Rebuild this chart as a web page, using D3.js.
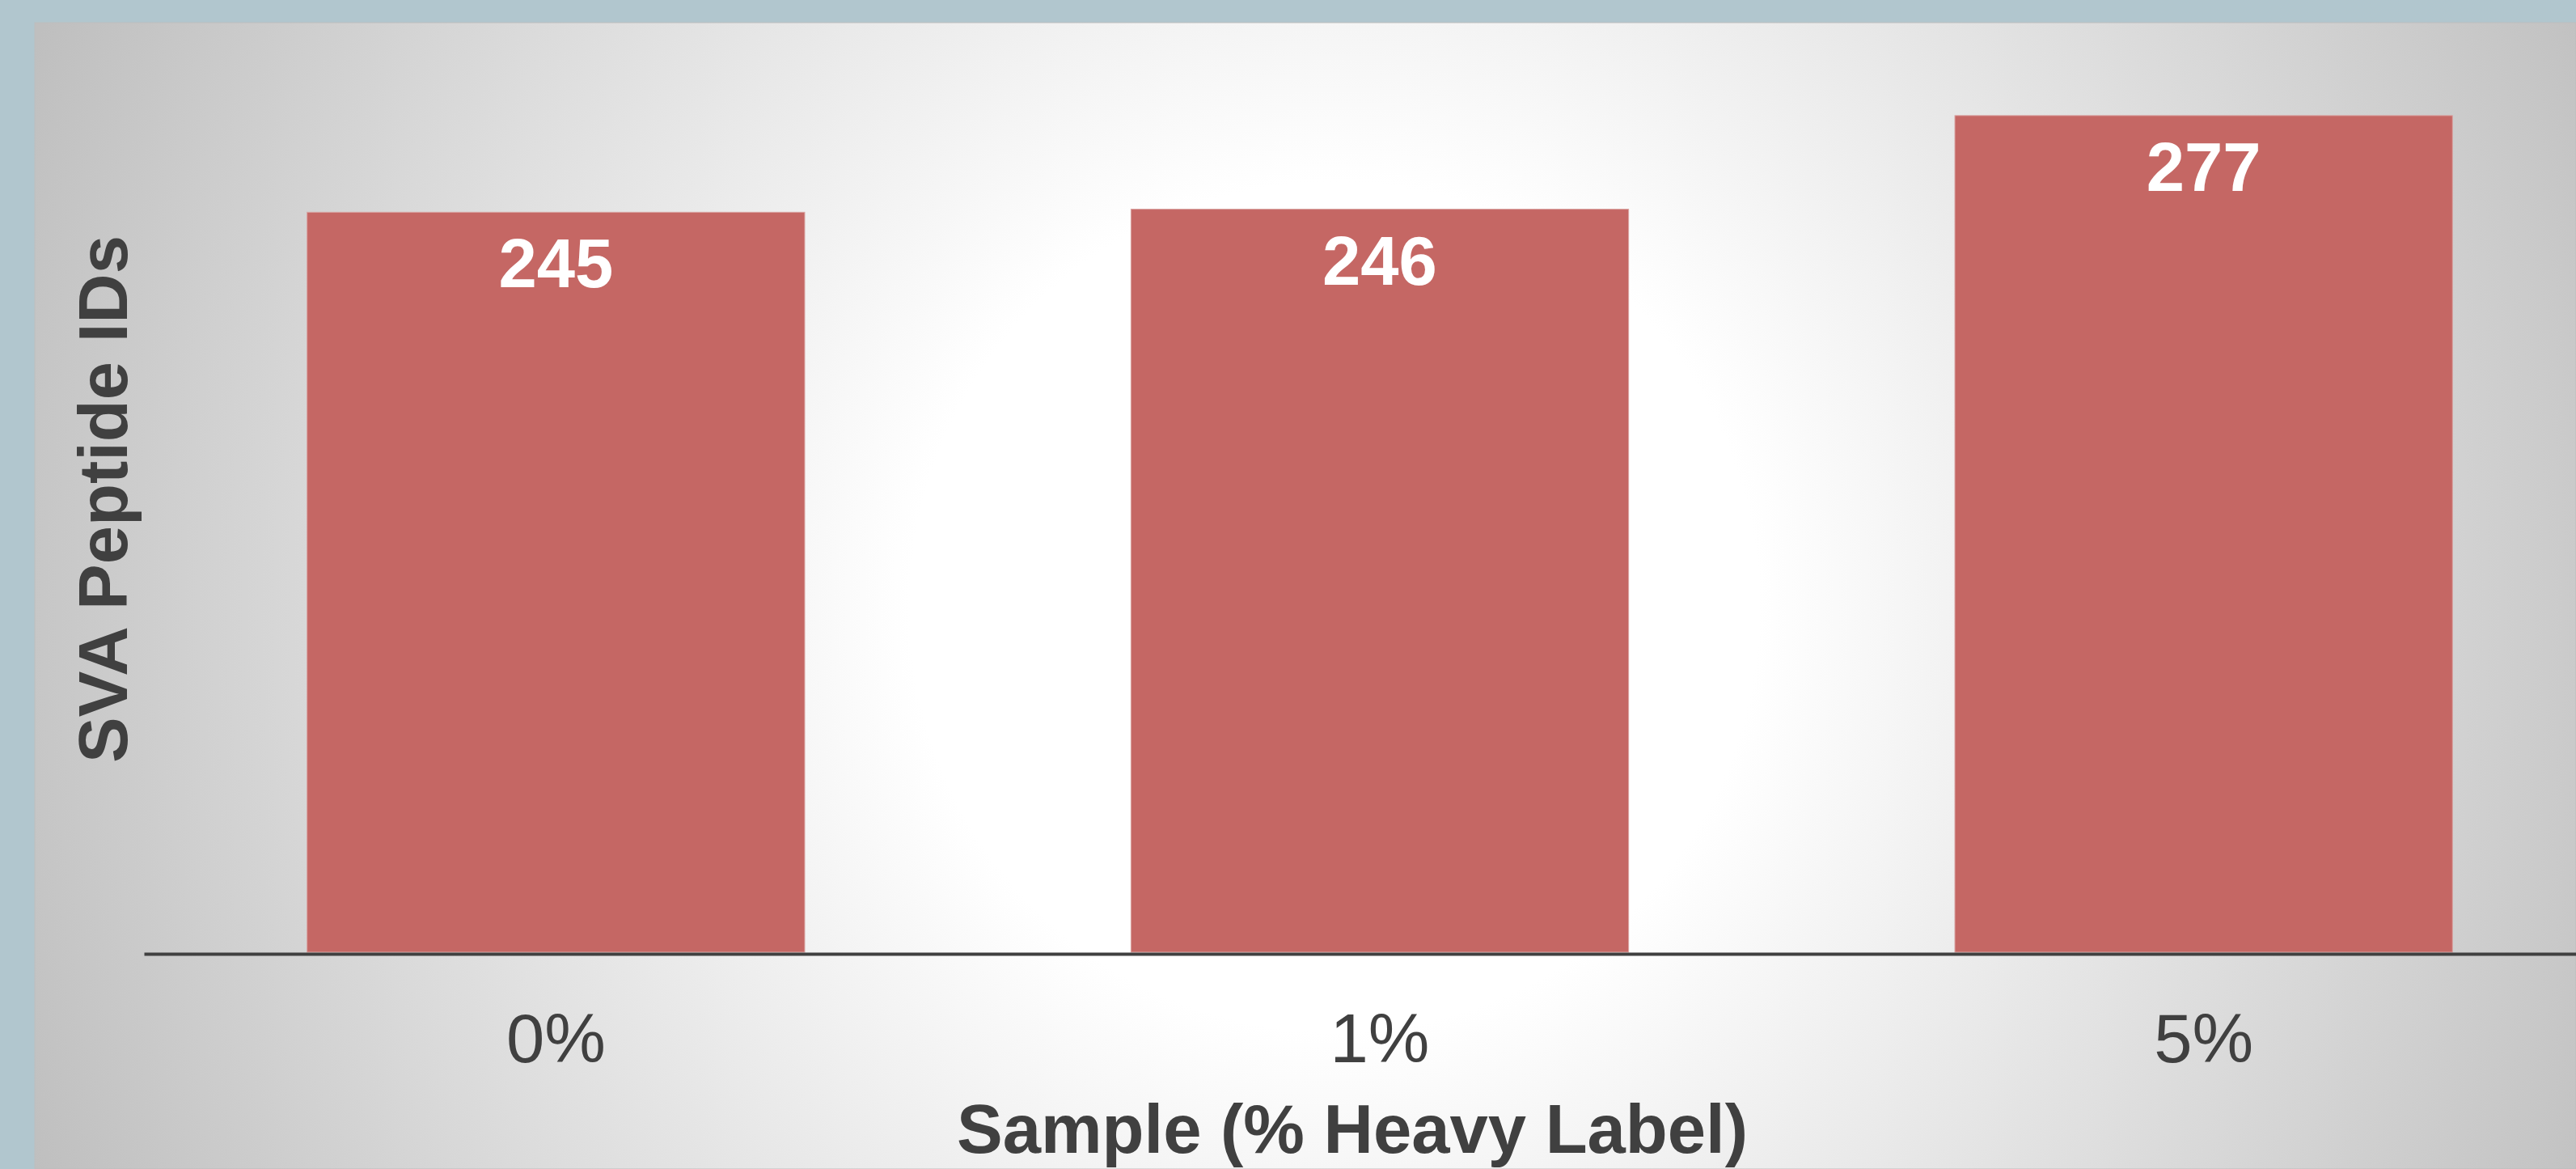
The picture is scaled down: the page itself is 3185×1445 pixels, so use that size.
<!DOCTYPE html>
<html>
<head>
<meta charset="utf-8">
<script src="https://cdn.jsdelivr.net/npm/d3@7"></script>
<style>
  html, body { margin: 0; padding: 0; background: #b1c6ce; }
  svg { display: block; font-family: "Liberation Sans", Arial, sans-serif; }
</style>
</head>
<body>
<svg width="3185" height="1445"></svg>
<script>
// chart data
let samples = ['0%', '1%', '5%'];
let peptideIds = [245, 246, 277];
let yDomain = [0, 300];

let svg = d3.select('svg'),
  width = +svg.attr('width'),
  height = +svg.attr('height'),
  baseY = 1177;

// background panel with a soft radial glow
let defs = svg.append('defs');
let glow = defs.append('radialGradient')
  .attr('id', 'glow')
  .attr('gradientUnits', 'userSpaceOnUse')
  .attr('cx', 1650).attr('cy', 750).attr('r', 1750);
glow.append('stop').attr('offset', 0).attr('stop-color', '#ffffff');
glow.append('stop').attr('offset', 0.3).attr('stop-color', '#ffffff');
glow.append('stop').attr('offset', 1).attr('stop-color', '#bfbfbf');

svg.append('rect')
  .attr('x', 0).attr('y', 0)
  .attr('width', width).attr('height', height)
  .attr('fill', '#b1c6ce');

svg.append('rect')
  .attr('x', 43).attr('y', 28)
  .attr('width', width - 43).attr('height', height - 28)
  .attr('fill', 'url(#glow)')
  .attr('stroke', '#bdbdbd')
  .attr('stroke-width', 1);

// scales
let x = d3.scaleBand()
  .domain(samples)
  .range([178, 3234])
  .paddingInner(0.396)
  .paddingOuter(0.198);

let y = d3.scaleLinear()
  .domain(yDomain)
  .range([baseY, 57]);

let data = samples.map((s, i) => ({ sample: s, value: peptideIds[i] }));

// bars
svg.append('g')
  .selectAll('rect')
  .data(data)
  .join('rect')
  .attr('x', d => x(d.sample))
  .attr('y', d => y(d.value))
  .attr('width', x.bandwidth())
  .attr('height', d => y(0) - y(d.value))
  .attr('fill', '#c56764')
  .attr('stroke', '#d9a3a1')
  .attr('stroke-width', 1);

// value labels inside the bars
svg.append('g')
  .selectAll('text')
  .data(data)
  .join('text')
  .attr('x', d => x(d.sample) + x.bandwidth() / 2)
  .attr('y', d => y(d.value) + 93)
  .attr('text-anchor', 'middle')
  .attr('font-size', '85px')
  .attr('font-weight', 'bold')
  .attr('fill', '#ffffff')
  .text(d => d.value);

// x axis
let xAxis = svg.append('g')
  .attr('transform', `translate(0, ${baseY + 2})`)
  .call(d3.axisBottom(x).tickSize(0).tickSizeOuter(0));

xAxis.select('.domain')
  .attr('stroke', '#404040')
  .attr('stroke-width', 4);

xAxis.selectAll('text')
  .attr('y', 134)
  .attr('dy', 0)
  .attr('font-size', '85px')
  .attr('font-family', '"Liberation Sans", Arial, sans-serif')
  .attr('fill', '#404040');

// axis titles
svg.append('text')
  .attr('x', 1672)
  .attr('y', 1425)
  .attr('text-anchor', 'middle')
  .attr('font-size', '85px')
  .attr('font-weight', 'bold')
  .attr('fill', '#404040')
  .text('Sample (% Heavy Label)');

svg.append('text')
  .attr('transform', 'translate(157, 617) rotate(-90)')
  .attr('text-anchor', 'middle')
  .attr('font-size', '85px')
  .attr('font-weight', 'bold')
  .attr('fill', '#404040')
  .text('SVA Peptide IDs');
</script>
</body>
</html>
